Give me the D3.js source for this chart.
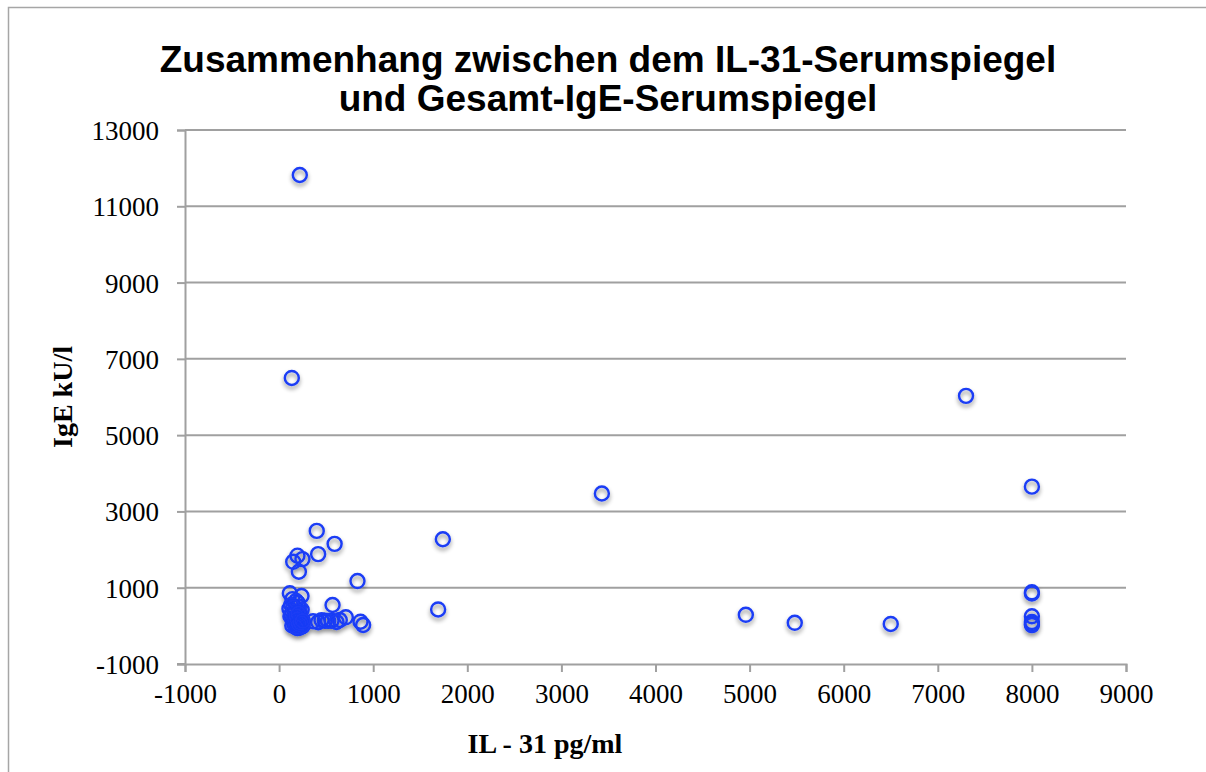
<!DOCTYPE html>
<html>
<head>
<meta charset="utf-8">
<script src="https://cdn.jsdelivr.net/npm/d3@7"></script>
<style>
  body { margin: 0; background: #fff; }
  svg { display: block; }
  .tick-label { font-family: "Liberation Serif", serif; font-size: 27px; fill: #000; }
  .axis-title { font-family: "Liberation Serif", serif; font-size: 28px; font-weight: bold; fill: #000; }
  .chart-title { font-family: "Liberation Sans", Arial, sans-serif; font-size: 37px; font-weight: bold; fill: #000; }
</style>
</head>
<body>
<svg id="chart" width="1206" height="772"></svg>
<script>
// IL-31 (pg/ml) and total IgE (kU/l) per patient
const il31 = [
  220, 135, 7300, 3430, 8000, 8000, 8000, 8000, 8000, 8000, 8000,
  4960, 5480, 6500, 1690, 1740,
  400, 590, 415, 195, 248, 150, 210, 833, 114, 238, 568, 142,
  415, 486, 557, 645, 709, 865, 893, 361, 451, 521, 610,
  110, 130, 150, 170, 190, 200, 210, 220, 230, 240, 250,
  120, 140, 160, 180, 200, 220, 240, 130, 170, 210, 250, 150, 190, 230,
  180, 200, 220, 160, 190, 210, 230, 170, 200, 220, 240, 185, 205,
  195, 215, 235, 205, 225, 245, 175, 210, 230, 250
];
const ige = [
  11820, 6500, 6030, 3470, 3650, 880, 850, 250, 100, 50, 20,
  290, 80, 50, 430, 2270,
  2490, 2150, 1880, 1840, 1750, 1680, 1420, 1175, 854, 783, 547, 700,
  93, 135, 135, 154, 224, 109, 22, 120, 150, 130, 100,
  450, 300, 150, 80, 20, 600, 500, 350, 200, 60, 0,
  250, 10, 380, 650, 100, -10, 420, 550, 30, 280, 120, 480, 200, 40,
  -20, -40, -30, 60, 10, 70, 20, 150, 180, 110, 90, 250, 320,
  -60, -50, -20, 0, 30, -10, -30, 50, 80, 130
];

const xTicks = [-1000, 0, 1000, 2000, 3000, 4000, 5000, 6000, 7000, 8000, 9000];
const yTicks = [-1000, 1000, 3000, 5000, 7000, 9000, 11000, 13000];

const titleLines = ["Zusammenhang zwischen dem IL-31-Serumspiegel", "und Gesamt-IgE-Serumspiegel"];
const xTitle = "IL - 31 pg/ml";
const yTitle = "IgE kU/l";

function drawChart() {
  const plot = { left: 185, right: 1126, top: 130, bottom: 664 };
  const svg = d3.select("#chart");

  const defs = svg.append("defs");
  const f = defs.append("filter").attr("id", "shadow")
    .attr("x", "-10%").attr("y", "-10%").attr("width", "120%").attr("height", "120%");
  f.append("feDropShadow")
    .attr("dx", 0).attr("dy", 3).attr("stdDeviation", 2)
    .attr("flood-color", "#000").attr("flood-opacity", 0.45);

  // outer frame
  svg.append("rect")
    .attr("x", 8.5).attr("y", 7.5).attr("width", 1300).attr("height", 900)
    .attr("fill", "none").attr("stroke", "#a6a6a6").attr("stroke-width", 1.5);

  const x = d3.scaleLinear().domain([-1000, 9000]).range([plot.left, plot.right]);
  const y = d3.scaleLinear().domain([-1000, 13000]).range([plot.bottom, plot.top]);

  // horizontal gridlines
  svg.append("g").selectAll("line")
    .data(yTicks.filter(d => d !== -1000))
    .join("line")
    .attr("x1", plot.left).attr("x2", plot.right)
    .attr("y1", d => y(d)).attr("y2", d => y(d))
    .attr("stroke", "#a0a0a0").attr("stroke-width", 2);

  // y axis
  const yAxis = svg.append("g")
    .attr("transform", `translate(${plot.left},0)`)
    .call(d3.axisLeft(y).tickValues(yTicks).tickSize(8).tickPadding(18).tickFormat(d => String(d)));
  yAxis.select(".domain").attr("stroke", "#a0a0a0").attr("stroke-width", 2);
  yAxis.selectAll(".tick line").attr("stroke", "#a0a0a0").attr("stroke-width", 2);
  yAxis.selectAll(".tick text").attr("class", "tick-label").attr("font-size", null).attr("font-family", null)
    .attr("dy", "0.35em");

  // x axis
  const xAxis = svg.append("g")
    .attr("transform", `translate(0,${plot.bottom})`)
    .call(d3.axisBottom(x).tickValues(xTicks).tickSize(8).tickPadding(12).tickFormat(d => String(d)));
  xAxis.select(".domain").attr("stroke", "#a0a0a0").attr("stroke-width", 2);
  xAxis.selectAll(".tick line").attr("stroke", "#a0a0a0").attr("stroke-width", 2);
  xAxis.selectAll(".tick text").attr("class", "tick-label").attr("font-size", null).attr("font-family", null);
  svg.append("line")
    .attr("x1", plot.left - 8).attr("x2", plot.left)
    .attr("y1", plot.bottom).attr("y2", plot.bottom)
    .attr("stroke", "#a0a0a0").attr("stroke-width", 2);

  // points (hollow rings, shadow cast by the whole group)
  const data = il31.map((v, i) => ({ x: v, y: ige[i] }));
  svg.append("g").attr("filter", "url(#shadow)")
    .selectAll("circle")
    .data(data)
    .join("circle")
    .attr("cx", d => x(d.x))
    .attr("cy", d => y(d.y))
    .attr("r", 7)
    .attr("fill", "none")
    .attr("stroke", "#1a3cf5")
    .attr("stroke-width", 2.4);

  // titles
  svg.append("g").selectAll("text")
    .data(titleLines)
    .join("text")
    .attr("class", "chart-title")
    .attr("x", 608).attr("y", (d, i) => 72 + i * 39)
    .attr("text-anchor", "middle")
    .text(d => d);

  svg.append("text")
    .attr("class", "axis-title")
    .attr("x", 545).attr("y", 753)
    .attr("text-anchor", "middle")
    .text(xTitle);

  svg.append("text")
    .attr("class", "axis-title")
    .attr("transform", "translate(72,397) rotate(-90)")
    .attr("text-anchor", "middle")
    .text(yTitle);
}

drawChart();
</script>
</body>
</html>
